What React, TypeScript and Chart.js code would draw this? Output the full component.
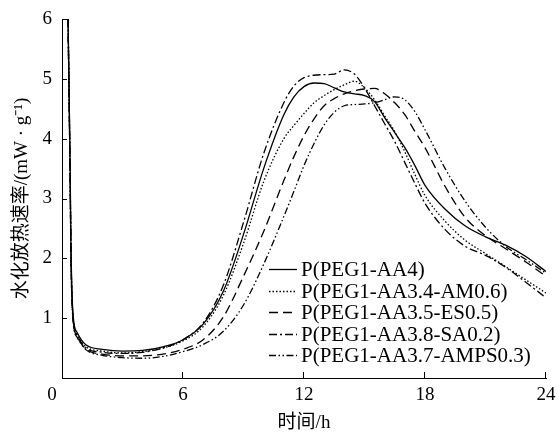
import React, { useEffect, useRef } from "react";
import { Chart, registerables } from "chart.js";

Chart.register(...registerables);

// ---- data ----
const times = [0.3, 0.4, 0.45, 0.55, 0.75, 1.2, 2, 3, 4, 5, 6, 7, 8, 9, 10, 11, 11.5, 12, 12.5, 13, 13.5, 14, 14.5, 15, 15.5, 16, 16.5, 17, 17.5, 18, 19, 20, 21, 22, 23, 24];

const seriesLabels = [
  "P(PEG1-AA4)",
  "P(PEG1-AA3.4-AM0.6)",
  "P(PEG1-AA3.5-ES0.5)",
  "P(PEG1-AA3.8-SA0.2)",
  "P(PEG1-AA3.7-AMPS0.3)",
];

const aa4 = [6.0, 3.6, 2.1, 1.05, 0.76, 0.55, 0.48, 0.45, 0.46, 0.52, 0.64, 0.9, 1.45, 2.4, 3.5, 4.4, 4.7, 4.87, 4.93, 4.92, 4.85, 4.78, 4.75, 4.72, 4.62, 4.35, 4.1, 3.85, 3.55, 3.22, 2.82, 2.54, 2.36, 2.22, 2.03, 1.78];
const am06 = [6.0, 3.5, 2.0, 1.0, 0.72, 0.52, 0.45, 0.42, 0.44, 0.5, 0.62, 0.86, 1.38, 2.25, 3.28, 4.0, 4.22, 4.42, 4.6, 4.72, 4.82, 4.9, 4.96, 4.85, 4.65, 4.38, 4.12, 3.78, 3.4, 3.05, 2.62, 2.3, 2.08, 1.86, 1.64, 1.42];
const es05 = [6.0, 3.4, 1.9, 0.98, 0.7, 0.48, 0.4, 0.37, 0.37, 0.4, 0.48, 0.64, 1.02, 1.7, 2.45, 3.3, 3.7, 4.05, 4.33, 4.55, 4.67, 4.75, 4.8, 4.83, 4.84, 4.75, 4.6, 4.4, 4.12, 3.85, 3.2, 2.68, 2.38, 2.16, 1.94, 1.7];
const sa02 = [6.0, 3.5, 2.0, 1.0, 0.72, 0.5, 0.43, 0.41, 0.43, 0.5, 0.64, 0.92, 1.55, 2.6, 3.75, 4.6, 4.88, 5.02, 5.06, 5.07, 5.08, 5.15, 5.08, 4.85, 4.55, 4.25, 3.95, 3.6, 3.25, 2.92, 2.48, 2.2, 2.05, 1.85, 1.6, 1.34];
const amps03 = [6.0, 3.4, 1.9, 0.95, 0.68, 0.47, 0.38, 0.34, 0.33, 0.36, 0.44, 0.56, 0.78, 1.22, 1.9, 2.7, 3.12, 3.55, 3.92, 4.23, 4.44, 4.55, 4.57, 4.58, 4.6, 4.65, 4.7, 4.65, 4.45, 4.15, 3.5, 2.95, 2.52, 2.2, 1.98, 1.75];

const seriesValues = [aa4, am06, es05, sa02, amps03];
const seriesDash = [[], [1.5, 2], [9, 5], [8, 3, 2, 3], [7, 2.5, 1.5, 2.5, 1.5, 2.5]];

const xTickValues = [0, 6, 12, 18, 24];
const yTickValues = [0, 1, 2, 3, 4, 5, 6];

const xTitle = "时间/h";
const yTitle = "水化放热速率/(mW · g⁻¹)";

const SERIF = "'Liberation Serif', 'Times New Roman', serif";
const CJK = "'Liberation Serif', 'Noto Sans CJK SC', serif";

const decorPlugin = {
  id: "decor",
  afterDraw(chart: any) {
    const { ctx, chartArea, scales } = chart;
    const xs = scales.x;
    const ys = scales.y;
    ctx.save();
    ctx.strokeStyle = "#000";
    ctx.lineWidth = 1;
    ctx.setLineDash([]);
    // inward tick marks
    for (const v of xTickValues) {
      if (v === 0) continue;
      const px = Math.round(xs.getPixelForValue(v)) - 0.5;
      ctx.beginPath();
      ctx.moveTo(px, chartArea.bottom);
      ctx.lineTo(px, chartArea.bottom - 6);
      ctx.stroke();
    }
    for (const v of yTickValues) {
      if (v === 0) continue;
      const py = Math.round(ys.getPixelForValue(v)) + 0.5;
      ctx.beginPath();
      ctx.moveTo(chartArea.left, py);
      ctx.lineTo(chartArea.left + 5, py);
      ctx.stroke();
    }
    // shared corner zero
    ctx.fillStyle = "#000";
    ctx.font = `19px ${SERIF}`;
    ctx.textAlign = "center";
    ctx.textBaseline = "middle";
    ctx.fillText("0", chartArea.left - 10, chartArea.bottom + 17);

    // legend inside the plot
    const x0 = chartArea.left + 207;
    const sampleW = 28;
    const y0 = chartArea.top + 250;
    const step = 21.5;
    ctx.font = `21px ${SERIF}`;
    ctx.textAlign = "left";
    chart.data.datasets.forEach((ds: any, i: number) => {
      const yy = Math.round(y0 + i * step) + 0.5;
      ctx.lineWidth = 1.3;
      ctx.setLineDash(ds.borderDash || []);
      ctx.beginPath();
      ctx.moveTo(x0, yy);
      ctx.lineTo(x0 + sampleW, yy);
      ctx.stroke();
      ctx.setLineDash([]);
      ctx.fillText(ds.label, x0 + sampleW + 4, yy + 1);
    });
    ctx.restore();
  },
};

export default function App() {
  const canvasRef = useRef<HTMLCanvasElement | null>(null);

  useEffect(() => {
    const canvas = canvasRef.current;
    if (!canvas) return;
    const datasets = seriesLabels.map((label, i) => ({
      label,
      data: times.map((t, k) => ({ x: t, y: seriesValues[i][k] })),
      borderColor: "#000",
      backgroundColor: "#000",
      borderWidth: 1.3,
      borderDash: seriesDash[i],
      pointRadius: 0,
      fill: false,
      cubicInterpolationMode: "monotone" as const,
    }));

    const chart = new Chart(canvas, {
      type: "line",
      data: { datasets },
      plugins: [decorPlugin],
      options: {
        animation: false,
        responsive: true,
        maintainAspectRatio: false,
        layout: { padding: { left: 0, right: 12, top: 19, bottom: 0 } },
        plugins: {
          legend: { display: false },
          tooltip: { enabled: false },
        },
        scales: {
          x: {
            type: "linear",
            min: 0,
            max: 24,
            afterFit: (s: any) => {
              s.height = 56;
              s.paddingLeft = 0;
              s.paddingRight = 0;
            },
            afterBuildTicks: (s: any) => {
              s.ticks = xTickValues.map((v) => ({ value: v }));
            },
            ticks: {
              color: "#000",
              padding: 6,
              font: { family: SERIF, size: 19 },
              maxRotation: 0,
              callback: (v: any) => (v === 0 ? "" : String(v)),
            },
            grid: { display: true, drawOnChartArea: false, drawTicks: false, color: "rgba(0,0,0,0)" },
            border: { display: true, color: "#000", width: 1 },
            title: {
              display: true,
              text: xTitle,
              color: "#000",
              font: { family: CJK, size: 19 },
              padding: { top: 0, bottom: 0 },
            },
          },
          y: {
            type: "linear",
            min: 0,
            max: 6,
            afterFit: (s: any) => {
              s.width = 62;
              s.paddingTop = 0;
              s.paddingBottom = 0;
            },
            afterBuildTicks: (s: any) => {
              s.ticks = yTickValues.map((v) => ({ value: v }));
            },
            ticks: {
              color: "#000",
              padding: 10,
              font: { family: SERIF, size: 19 },
              callback: (v: any) => (v === 0 ? "" : String(v)),
            },
            grid: { display: true, drawOnChartArea: false, drawTicks: false, color: "rgba(0,0,0,0)" },
            border: { display: true, color: "#000", width: 1 },
            title: {
              display: true,
              text: yTitle,
              color: "#000",
              font: { family: CJK, size: 19 },
              padding: { top: 11, bottom: 0 },
            },
          },
        },
      },
    });
    return () => chart.destroy();
  }, []);

  return (
    <div style={{ position: "fixed", left: 0, top: 0, width: 558, height: 434, background: "#fff" }}>
      <canvas ref={canvasRef} />
    </div>
  );
}
